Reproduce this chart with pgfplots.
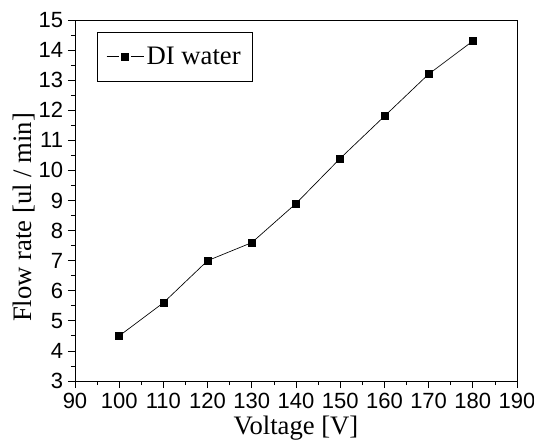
\documentclass[border=0pt]{standalone}
\usepackage{pgfplots}
\pgfplotsset{compat=1.18}
\usepackage{fontspec}
\setmainfont{Liberation Serif}
\newfontfamily\ticksf{Liberation Sans}
\newcommand\tk[1]{{\ticksf\fontsize{16.5}{16.5}\selectfont\pgfmathprintnumber[assume math mode=true]{#1}}}

\begin{document}
\begin{tikzpicture}
\begin{axis}[
    name=ax,
    scale only axis,
    width=331.5pt, height=270.75pt,
    xmin=90, xmax=190, ymin=3, ymax=15,
    xtick={90,100,...,190}, ytick={3,4,...,15},
    minor x tick num=1, minor y tick num=1,
    axis x line*=bottom, axis y line*=left,
    tick align=outside,
    major tick length=5.25pt, minor tick length=3pt,
    tick style={black, line width=0.6pt},
    axis line style={line width=0.6pt},
    xticklabel={\tk{\tick}},
    yticklabel={\tk{\tick}},
    xticklabel style={inner sep=4pt},
    yticklabel style={inner sep=3.5pt},
    xlabel={Voltage [V]}, ylabel={Flow rate [ul / min]},
    xlabel style={font=\fontsize{20}{20}\selectfont, inner sep=0pt,
        at={([yshift=-40.3pt]rel axis cs:0.5,0)}, anchor=base},
    ylabel style={font=\fontsize{20}{20}\selectfont, inner sep=0pt,
        at={([xshift=-38.6pt]rel axis cs:0,0.453)}, anchor=center},
    legend style={at={(rel axis cs:0.05,0.967)}, anchor=north west,
        font=\fontsize{20}{20}\selectfont, draw=black, line width=0.6pt,
        inner xsep=6.5pt, inner ysep=9pt},
    legend image code/.code={
        \draw[#1, mark=none] (0cm,0cm) -- (0.34cm,0cm);
        \draw[#1, mark=none] (0.64cm,0cm) -- (0.98cm,0cm);
        \draw[#1, only marks] plot coordinates {(0.49cm,0cm)};
    },
    legend cell align=left,
    clip=false,
]
\addplot[black, line width=0.5pt, mark=square*, mark size=2.6pt,
    mark options={solid}] coordinates {
    (100,4.5) (110,5.6) (120,7.0) (130,7.6) (140,8.9)
    (150,10.4) (160,11.8) (170,13.2) (180,14.3)};
\addlegendentry{DI water}
\draw[line width=0.6pt] (rel axis cs:0,1) -- (rel axis cs:1,1) -- (rel axis cs:1,0);
\end{axis}
\pgfresetboundingbox
\path[use as bounding box] (ax.south west) ++(-56.25pt,-43.5pt)
    rectangle ([shift={(12.75pt,15pt)}]ax.north east);
\end{tikzpicture}
\end{document}
